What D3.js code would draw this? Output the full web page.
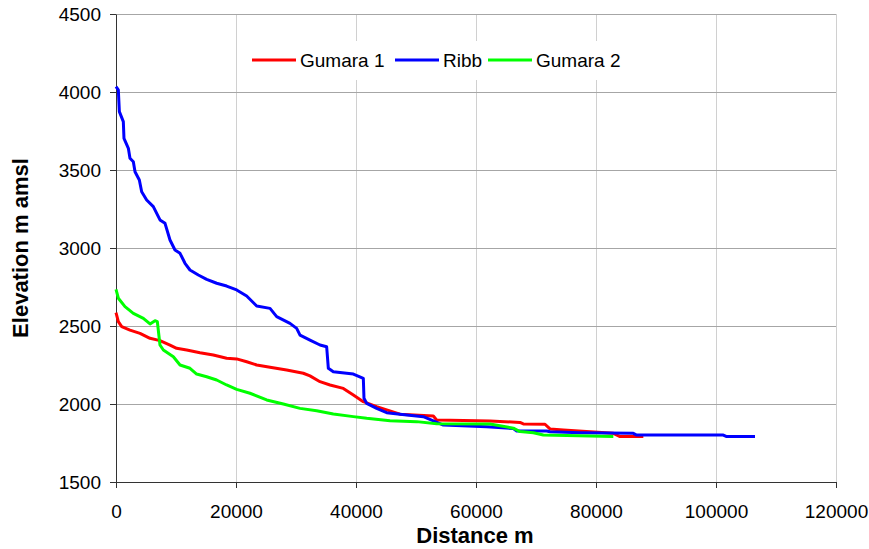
<!DOCTYPE html>
<html>
<head>
<meta charset="utf-8">
<script src="https://cdn.jsdelivr.net/npm/d3@7"></script>
<style>
  body { margin: 0; background: #fff; }
  svg { display: block; font-family: "Liberation Sans", Arial, sans-serif; }
  .tick-label-text { font-size: 19px; fill: #000; }
  .axis-title-text { font-size: 22px; font-weight: bold; fill: #000; }
  .legend-text { font-size: 19px; fill: #000; }
</style>
</head>
<body>
<div id="chart"></div>
<script>
// Longitudinal profiles: [distance m, elevation m amsl]
const gumara1 = [
  [0, 2585], [390, 2528], [950, 2496], [2330, 2474], [4000, 2453], [5670, 2421],
  [7330, 2406], [9000, 2378], [10110, 2357], [11780, 2346], [14000, 2329],
  [16220, 2314], [18440, 2293], [20110, 2289], [21780, 2271], [23450, 2250],
  [25670, 2235], [28440, 2218], [31220, 2197], [32330, 2180], [34000, 2143],
  [35670, 2122], [37890, 2100], [39560, 2058], [41220, 2015], [43440, 1983],
  [47330, 1935], [52890, 1923], [53440, 1898], [62330, 1891], [67330, 1882],
  [67890, 1872], [71500, 1870], [72330, 1840], [74560, 1834], [82890, 1812],
  [84000, 1791], [87890, 1791]
];
const ribb = [
  [0, 4034], [390, 4013], [560, 3874], [1220, 3810], [1330, 3703], [2060, 3639],
  [2330, 3575], [2890, 3553], [3170, 3489], [3890, 3436], [4280, 3361],
  [5110, 3308], [6220, 3265], [7330, 3180], [8170, 3158], [9000, 3051],
  [9830, 2987], [10670, 2966], [11500, 2902], [12330, 2859], [13720, 2827],
  [15110, 2799], [16780, 2774], [18440, 2756], [20110, 2731], [21780, 2692],
  [23450, 2628], [25670, 2613], [26780, 2560], [29000, 2517], [30110, 2485],
  [30670, 2442], [32330, 2410], [34000, 2378], [35110, 2367], [35390, 2229],
  [36220, 2207], [39560, 2192], [41220, 2165], [41330, 2037], [41780, 2004],
  [43440, 1972], [45110, 1944], [47330, 1935], [51220, 1919], [54560, 1865],
  [61780, 1854], [66220, 1843], [66780, 1827], [71780, 1827], [72330, 1822],
  [77330, 1816], [86220, 1812], [86780, 1801], [101220, 1801], [101780, 1791],
  [106500, 1791]
];
const gumara2 = [
  [0, 2735], [390, 2678], [1500, 2624], [2890, 2581], [4560, 2549], [5670, 2513],
  [6500, 2534], [6890, 2528], [7330, 2378], [7890, 2346], [9560, 2303],
  [10670, 2250], [12330, 2229], [13440, 2192], [15110, 2175], [16780, 2154],
  [18440, 2122], [20110, 2094], [22330, 2069], [25110, 2026], [27890, 2000],
  [30670, 1972], [33440, 1957], [36220, 1936], [39560, 1919], [41780, 1908],
  [45670, 1893], [50110, 1887], [53440, 1874], [62330, 1872], [66220, 1845],
  [67330, 1823], [69560, 1816], [71220, 1801], [82890, 1791]
];

const seriesNames = ["Gumara 1", "Ribb", "Gumara 2"];
const seriesColors = ["#ff0000", "#0000ff", "#00ff00"];
const seriesData = [gumara1, ribb, gumara2];

const xTicks = [0, 20000, 40000, 60000, 80000, 100000, 120000];
const yTicks = [1500, 2000, 2500, 3000, 3500, 4000, 4500];

const width = 869;
const height = 549;
const margin = { top: 14, right: 33, bottom: 67, left: 116 };

const svg = d3.select("#chart").append("svg")
  .attr("width", width)
  .attr("height", height)
  .attr("viewBox", [0, 0, width, height]);

const x = d3.scaleLinear().domain([0, 120000]).range([margin.left, width - margin.right]);
const y = d3.scaleLinear().domain([1500, 4500]).range([height - margin.bottom, margin.top]);

// grid lines
svg.append("g")
  .selectAll("line")
  .data(xTicks.slice(1))
  .join("line")
  .attr("x1", (d) => x(d)).attr("x2", (d) => x(d))
  .attr("y1", y(4500)).attr("y2", y(1500))
  .attr("stroke", "#d0d0d0")
  .attr("shape-rendering", "crispEdges");

svg.append("g")
  .selectAll("line")
  .data(yTicks.slice(1))
  .join("line")
  .attr("x1", x(0)).attr("x2", x(120000))
  .attr("y1", (d) => y(d)).attr("y2", (d) => y(d))
  .attr("stroke", "#a6a6a6")
  .attr("shape-rendering", "crispEdges");

// legend background covers the grid
const legend = svg.append("g").attr("class", "legend");
legend.append("rect")
  .attr("x", 238).attr("y", 41).attr("width", 405).attr("height", 39)
  .attr("fill", "#fff");

// axes
svg.append("g")
  .attr("class", "axis axis--x")
  .attr("transform", `translate(0,${y(1500)})`)
  .call(d3.axisBottom(x).tickValues(xTicks).tickSizeInner(6).tickSizeOuter(0).tickPadding(17).tickFormat(d3.format("d")))
  .call((g) => g.select(".domain").attr("stroke", "#333"))
  .call((g) => g.selectAll(".tick line").attr("stroke", "#333"))
  .call((g) => g.selectAll(".tick text").attr("class", "tick-label-text").attr("font-family", null).attr("font-size", null));

svg.append("g")
  .attr("class", "axis axis--y")
  .attr("transform", `translate(${x(0)},0)`)
  .call(d3.axisLeft(y).tickValues(yTicks).tickSizeInner(6).tickSizeOuter(0).tickPadding(9).tickFormat(d3.format("d")))
  .call((g) => g.select(".domain").attr("stroke", "#333"))
  .call((g) => g.selectAll(".tick line").attr("stroke", "#333"))
  .call((g) => g.selectAll(".tick text").attr("class", "tick-label-text").attr("font-family", null).attr("font-size", null));

// axis titles
svg.append("text")
  .attr("class", "axis-title-text")
  .attr("text-anchor", "middle")
  .attr("x", (x(0) + x(120000)) / 2 - 1)
  .attr("y", 543)
  .text("Distance m");

svg.append("text")
  .attr("class", "axis-title-text")
  .attr("text-anchor", "middle")
  .attr("transform", `translate(28,${(y(1500) + y(4500)) / 2}) rotate(-90)`)
  .text("Elevation m amsl");

// profiles
const line = d3.line()
  .x((d) => x(d[0]))
  .y((d) => y(d[1]));

svg.append("g")
  .selectAll("path")
  .data(seriesData)
  .join("path")
  .attr("fill", "none")
  .attr("stroke", (d, i) => seriesColors[i])
  .attr("stroke-width", 3)
  .attr("stroke-linejoin", "round")
  .attr("d", line);

// legend items
const legendX = [252, 395, 488];
const legendItem = legend.selectAll(".legend-item")
  .data(seriesNames)
  .join("g")
  .attr("class", "legend-item")
  .attr("transform", (d, i) => `translate(${legendX[i]},60)`);

legendItem.append("line")
  .attr("x1", 0).attr("x2", 44)
  .attr("stroke", (d, i) => seriesColors[i])
  .attr("stroke-width", 3);

legendItem.append("text")
  .attr("class", "legend-text")
  .attr("x", 48)
  .attr("dy", "0.35em")
  .text((d) => d);
</script>
</body>
</html>
